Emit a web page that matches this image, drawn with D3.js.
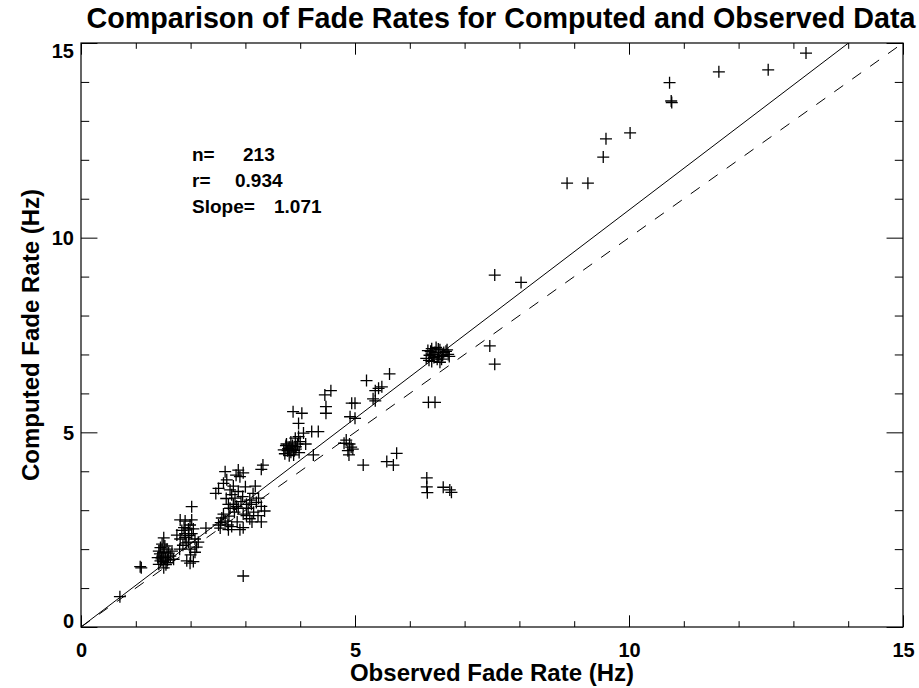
<!DOCTYPE html>
<html>
<head>
<meta charset="utf-8">
<script src="https://cdn.jsdelivr.net/npm/d3@7"></script>
<style>
	html, body { margin: 0; padding: 0; background: #fff; }
	svg { display: block; }
	text { font-family: "Liberation Sans", Arial, Helvetica, sans-serif; font-weight: bold; fill: #000; }
</style>
</head>
<body>
<svg id="chart" width="919" height="688"></svg>
<script>
/* global d3 */

// observed (x) and computed (y) fade rates
let observed = [
	10.74, 10.77, 10.78, 11.64, 12.54, 13.23,
	9.58, 9.53, 10.02, 8.87, 9.25,
	7.55, 8.03, 7.46, 7.55,
	6.33, 6.40, 6.48, 6.55, 6.62, 6.70, 6.36, 6.44, 6.52, 6.58, 6.66, 6.30, 6.46, 6.72, 6.40, 6.55,
	6.42, 6.50, 6.60, 6.38, 6.68, 6.35, 6.52,
	6.34, 6.46,
	6.31, 6.31, 6.32, 6.61, 6.73, 6.76,
	5.21, 5.63, 5.43, 5.49, 5.37, 5.37, 5.33,
	4.45, 4.56, 5.00, 4.94, 4.47, 4.47, 4.91, 5.00,
	3.87, 4.03, 3.97, 4.21, 4.33, 4.06, 3.97, 4.00, 3.91,
	3.74, 3.80, 3.86, 3.92, 3.77, 3.83, 3.89, 3.72, 3.95, 3.80, 3.88,
	3.78, 3.85, 3.92, 3.75, 3.98, 3.83, 4.10, 3.70,
	4.24,
	4.84, 4.90, 4.93, 4.87, 4.96, 4.89, 4.80,
	5.15, 5.58, 5.70, 5.76,
	3.32, 3.29,
	2.87, 2.83, 2.96, 2.90,
	2.63, 2.66, 2.60,
	2.51, 2.46,
	2.72, 2.87, 2.81,
	3.14, 3.24, 3.08,
	2.69, 2.78, 2.84, 2.72, 2.87,
	3.02, 3.11, 3.20, 3.29, 3.35,
	2.96, 3.02, 3.08, 3.29, 3.23,
	2.60, 2.57, 2.63,
	2.75, 2.69, 2.96, 2.90,
	2.51, 2.54, 2.28,
	2.75, 2.92, 3.05, 2.80, 2.70, 3.15, 2.85, 2.95, 2.65, 3.00, 2.78, 3.18, 2.55, 2.68, 3.12,
	2.02,
	1.81, 1.90, 2.02, 1.99, 1.96, 2.05, 1.84, 1.90, 2.02,
	1.75, 1.81, 1.90, 1.96, 2.08, 2.14, 2.11, 1.99, 2.08,
	1.93, 1.99, 2.05,
	1.51, 1.48, 1.45, 1.42, 1.51, 1.57, 1.48, 1.54, 1.45, 1.42, 1.51, 1.57, 1.63, 1.69,
	1.44, 1.53, 1.60, 1.47, 1.55, 1.66, 1.40, 1.50, 1.58, 1.86, 1.92, 1.80, 1.97, 1.88, 2.00,
	1.08, 1.10,
	2.96,
	0.71
];

let computed = [
	13.98, 13.51, 13.47, 14.26, 14.31, 14.74,
	12.54, 12.07, 12.69, 11.40, 11.40,
	9.04, 8.85, 7.22, 6.75,
	7.10, 7.15, 7.18, 7.12, 7.05, 7.00, 6.98, 6.92, 6.95, 6.88, 7.08, 6.90, 7.05, 6.95, 6.82, 6.80,
	7.00, 6.88, 6.98, 7.08, 7.12, 6.85, 7.14,
	5.77, 5.77,
	3.83, 3.60, 3.45, 3.59, 3.52, 3.46,
	6.33, 6.50, 6.13, 6.17, 6.07, 5.81, 5.86,
	5.96, 6.07, 5.75, 5.75, 5.66, 5.49, 5.40, 5.36,
	5.53, 5.49, 5.23, 5.02, 5.02, 4.98, 4.89, 4.76, 4.85,
	4.66, 4.62, 4.66, 4.57, 4.53, 4.49, 4.53, 4.45, 4.70, 4.40, 4.42,
	4.58, 4.55, 4.63, 4.70, 4.48, 4.75, 4.70, 4.55,
	4.42,
	4.80, 4.70, 4.62, 4.53, 4.57, 4.42, 4.72,
	4.16, 4.25, 4.16, 4.46,
	4.16, 4.05,
	4.03, 3.90, 3.96, 3.86,
	3.99, 3.78, 3.69,
	3.56, 3.43,
	3.52, 3.48, 3.31,
	3.43, 3.31, 3.26,
	3.15, 3.15, 3.10, 3.05, 3.05,
	3.15, 3.15, 3.20, 3.10, 2.98,
	2.90, 2.86, 2.78, 2.70, 2.86,
	2.90, 2.80, 2.72,
	2.58, 2.50, 2.55, 2.50,
	2.62, 2.54, 2.54,
	3.40, 3.22, 3.05, 2.95, 2.85, 2.95, 2.70, 3.35, 3.30, 3.60, 3.62, 3.62, 2.68, 2.62, 2.70,
	3.09,
	2.75, 2.72, 2.75, 2.62, 2.52, 2.52, 2.48, 2.40, 2.40,
	2.36, 2.26, 2.30, 2.18, 2.26, 2.18, 2.05, 2.00, 1.92,
	1.70, 1.64, 1.68,
	2.29, 2.13, 2.04, 1.95, 1.92, 2.00, 1.82, 1.78, 1.70, 1.61, 1.52, 1.65, 1.82, 1.74,
	1.88, 2.08, 1.90, 1.75, 1.60, 1.95, 1.78, 1.68, 1.72, 2.10, 2.16, 2.00, 2.35, 2.55, 1.85,
	1.55, 1.52,
	1.31,
	0.78
];

let majorTicks = [0, 5, 10, 15],
	minorTicks = [1, 2, 3, 4, 6, 7, 8, 9, 11, 12, 13, 14],
	statLabels = ['n=', 'r=', 'Slope='],
	statValues = ['213', '0.934', '1.071'],
	fitSlope = 1.071,
	titleText = 'Comparison of Fade Rates for Computed and Observed Data',
	xTitle = 'Observed Fade Rate (Hz)',
	yTitle = 'Computed Fade Rate (Hz)';

function chart() {
	var svg = d3.select('#chart'),
		margin = {top: 43, right: 16, bottom: 61, left: 81},
		width = +svg.attr('width') - margin.left - margin.right,
		height = +svg.attr('height') - margin.top - margin.bottom,
		x = d3.scaleLinear().domain([0, 15]).range([0, width]),
		y = d3.scaleLinear().domain([0, 15]).range([height, 0]),
		g = svg.append('g').attr('transform', 'translate(' + margin.left + ',' + margin.top + ')'),
		plot,
		xMajor = height * 0.02,
		yMajor = width * 0.02,
		gx,
		gy,
		index;

	svg.append('defs').append('clipPath').attr('id', 'clip')
		.append('rect').attr('width', width).attr('height', height);

	// ticks on all four sides, pointing inward (major long, minor half)
	function ticks(axisFn, scale, vals, len, labels) {
		return axisFn(scale).tickValues(vals).tickSize(-len)
			.tickFormat(labels ? d3.format('d') : '');
	}

	gx = g.append('g').attr('transform', 'translate(0,' + height + ')')
		.call(ticks(d3.axisBottom, x, majorTicks, xMajor, true).tickPadding(16));
	g.append('g').attr('transform', 'translate(0,' + height + ')')
		.call(ticks(d3.axisBottom, x, minorTicks, xMajor / 2, false));
	g.append('g').call(ticks(d3.axisTop, x, majorTicks, xMajor, false));
	g.append('g').call(ticks(d3.axisTop, x, minorTicks, xMajor / 2, false));

	gy = g.append('g').call(ticks(d3.axisLeft, y, majorTicks, yMajor, true).tickPadding(7));
	g.append('g').call(ticks(d3.axisLeft, y, minorTicks, yMajor / 2, false));
	g.append('g').attr('transform', 'translate(' + width + ',0)')
		.call(ticks(d3.axisRight, y, majorTicks, yMajor, false));
	g.append('g').attr('transform', 'translate(' + width + ',0)')
		.call(ticks(d3.axisRight, y, minorTicks, yMajor / 2, false));

	g.selectAll('.domain').remove();
	g.selectAll('.tick line').attr('stroke', '#000').attr('stroke-width', 1);

	gx.selectAll('text').style('font-size', '20px').attr('fill', '#000');
	gy.selectAll('text').style('font-size', '20px').attr('fill', '#000')
		.attr('dy', function(d) {
			if (d === 0) { return '0em'; }
			if (d === 15) { return '0.7em'; }
			return '0.35em';
		});

	// frame
	g.append('rect')
		.attr('width', width)
		.attr('height', height)
		.attr('fill', 'none')
		.attr('stroke', '#000')
		.attr('stroke-width', 1.2);

	plot = g.append('g').attr('clip-path', 'url(#clip)');

	// one-to-one line (dashed) and fit line (solid)
	plot.append('line')
		.attr('x1', x(0)).attr('y1', y(0))
		.attr('x2', x(15)).attr('y2', y(15))
		.attr('stroke', '#000')
		.attr('stroke-width', 1)
		.attr('stroke-dasharray', '11,11');

	plot.append('line')
		.attr('x1', x(0)).attr('y1', y(0))
		.attr('x2', x(15)).attr('y2', y(15 * fitSlope))
		.attr('stroke', '#000')
		.attr('stroke-width', 1);

	// plus symbols
	plot.selectAll('.pt')
		.data(observed.map(function(d, i) { return [d, computed[i]]; }))
		.enter().append('path')
			.attr('class', 'pt')
			.attr('transform', function(d) { return 'translate(' + x(d[0]) + ',' + y(d[1]) + ')'; })
			.attr('d', 'M-6,0H6M0,-6V6')
			.attr('stroke', '#000')
			.attr('stroke-width', 1.3)
			.attr('fill', 'none');

	// statistics block
	var statX = [0, 51, 43, 82];
	for (index = 0; index < statLabels.length; index++) {
		g.append('text')
			.attr('x', 111)
			.attr('y', 118 + index * 26)
			.style('font-size', '19px')
			.text(statLabels[index]);
		g.append('text')
			.attr('x', 111 + statX[index + 1])
			.attr('y', 118 + index * 26)
			.style('font-size', '19px')
			.text(statValues[index]);
	}

	// titles
	svg.append('text')
		.attr('x', 501)
		.attr('y', 28)
		.attr('text-anchor', 'middle')
		.style('font-size', '28.7px')
		.text(titleText);

	svg.append('text')
		.attr('x', margin.left + width / 2)
		.attr('y', 681)
		.attr('text-anchor', 'middle')
		.style('font-size', '24px')
		.text(xTitle);

	svg.append('text')
		.attr('transform', 'translate(39,' + (margin.top + height / 2) + ') rotate(-90)')
		.attr('text-anchor', 'middle')
		.style('font-size', '24px')
		.text(yTitle);
}

chart();
</script>
</body>
</html>
